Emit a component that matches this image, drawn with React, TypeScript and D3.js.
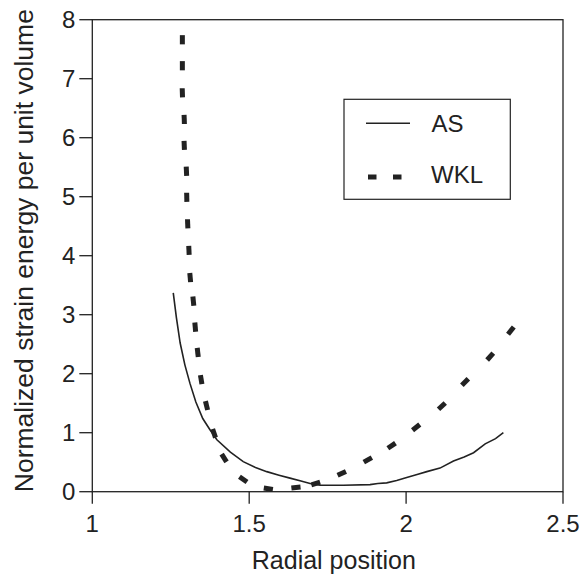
import React from "react";
import * as d3 from "d3";

const asX = [1.258, 1.268, 1.280, 1.295, 1.311, 1.330, 1.352, 1.375, 1.397, 1.440, 1.481, 1.520, 1.556, 1.595, 1.630, 1.665, 1.694, 1.726, 1.800, 1.885, 1.910, 1.938, 1.970, 2.002, 2.035, 2.066, 2.108, 2.151, 2.185, 2.215, 2.252, 2.285, 2.310];
const asY = [3.37, 2.95, 2.52, 2.15, 1.84, 1.52, 1.24, 1.05, 0.88, 0.67, 0.51, 0.41, 0.34, 0.28, 0.23, 0.18, 0.14, 0.11, 0.11, 0.12, 0.14, 0.15, 0.19, 0.24, 0.29, 0.34, 0.40, 0.52, 0.59, 0.66, 0.81, 0.90, 1.00];

// WKL values (each point drawn as one dash of the dashed curve)
const wklX = [1.287, 1.287, 1.287, 1.293, 1.293, 1.300, 1.301, 1.304, 1.308, 1.312, 1.322, 1.328, 1.336, 1.347, 1.364, 1.388, 1.420, 1.481, 1.561, 1.649, 1.712, 1.795, 1.878, 1.954, 2.032, 2.114, 2.188, 2.268, 2.334];
const wklY = [7.66, 7.22, 6.76, 6.31, 5.87, 5.43, 4.99, 4.54, 4.09, 3.63, 3.23, 2.79, 2.36, 1.90, 1.46, 0.99, 0.57, 0.21, 0.05, 0.07, 0.14, 0.31, 0.54, 0.78, 1.09, 1.45, 1.86, 2.29, 2.73];

const xTicks = [1, 1.5, 2, 2.5];
const xTickLabels = ["1", "1.5", "2", "2.5"];
const yTicks = [0, 1, 2, 3, 4, 5, 6, 7, 8];
const seriesNames = ["AS", "WKL"];

const FONT = "'Liberation Sans', Arial, Helvetica, sans-serif";
const INK = "#222";

export default function App() {
  const W = 583, H = 577;
  const x = d3.scaleLinear().domain([1, 2.5]).range([92.3, 563]);
  const y = d3.scaleLinear().domain([0, 8]).range([491.7, 19.7]);
  const line = d3.line<[number, number]>().x(d => x(d[0])).y(d => y(d[1])).curve(d3.curveLinear);
  const asPts: [number, number][] = asX.map((v, i) => [v, asY[i]]);
  const [x0, x1] = x.range();
  const [y0, y1] = y.range();

  const px = wklX.map(v => x(v));
  const py = wklY.map(v => y(v));
  const n = px.length;
  const dashes = px.map((cx, i) => {
    const a = Math.max(0, i - 1), b = Math.min(n - 1, i + 1);
    let dx = px[b] - px[a], dy = py[b] - py[a];
    const len = Math.hypot(dx, dy) || 1;
    dx /= len; dy /= len;
    const half = 4.6;
    return { x1: cx - dx * half, y1: py[i] - dy * half, x2: cx + dx * half, y2: py[i] + dy * half };
  });

  return (
    <svg width={W} height={H} style={{ position: "absolute", left: 0, top: 0, background: "#fff" }}>
      <rect x={0} y={0} width={W} height={H} fill="#fff" />
      <rect x={x0} y={y1} width={x1 - x0} height={y0 - y1} fill="none" stroke={INK} strokeWidth={1.3} />
      {yTicks.map(t => (
        <g key={"y" + t}>
          <line x1={x0 - 13} x2={x0} y1={y(t)} y2={y(t)} stroke={INK} strokeWidth={1.3} />
          <text x={x0 - 17} y={y(t)} dy="0.36em" textAnchor="end" fontFamily={FONT} fontSize={24} fill={INK}>{t}</text>
        </g>
      ))}
      {xTicks.map((t, i) => (
        <g key={"x" + t}>
          <line x1={x(t)} x2={x(t)} y1={y0} y2={y0 + 12} stroke={INK} strokeWidth={1.3} />
          <text x={x(t)} y={531.7} textAnchor="middle" fontFamily={FONT} fontSize={24} fill={INK}>{xTickLabels[i]}</text>
        </g>
      ))}
      <text x={(249.3 + 418.3) / 2} y={569.3} textAnchor="middle" fontFamily={FONT} fontSize={25} fill={INK}>Radial position</text>
      <text transform={`translate(33,${(488.3 + 13) / 2}) rotate(-90)`} textAnchor="middle" fontFamily={FONT} fontSize={26.5} fill={INK}>Normalized strain energy per unit volume</text>
      <path d={line(asPts) || ""} fill="none" stroke={INK} strokeWidth={1.6} />
      {dashes.map((d, i) => (
        <line key={"w" + i} x1={d.x1} y1={d.y1} x2={d.x2} y2={d.y2} stroke={INK} strokeWidth={5} />
      ))}
      <rect x={344} y={99.3} width={510.3 - 344} height={100} fill="#fff" stroke={INK} strokeWidth={1.2} />
      <line x1={366} x2={410} y1={123.3} y2={123.3} stroke={INK} strokeWidth={1.6} />
      <text x={431.5} y={132.3} fontFamily={FONT} fontSize={24} fill={INK}>{seriesNames[0]}</text>
      <line x1={368} x2={403} y1={177} y2={177} stroke={INK} strokeWidth={5} strokeDasharray="8.5,16.5" />
      <text x={431} y={183.3} fontFamily={FONT} fontSize={24} fill={INK}>{seriesNames[1]}</text>
    </svg>
  );
}
